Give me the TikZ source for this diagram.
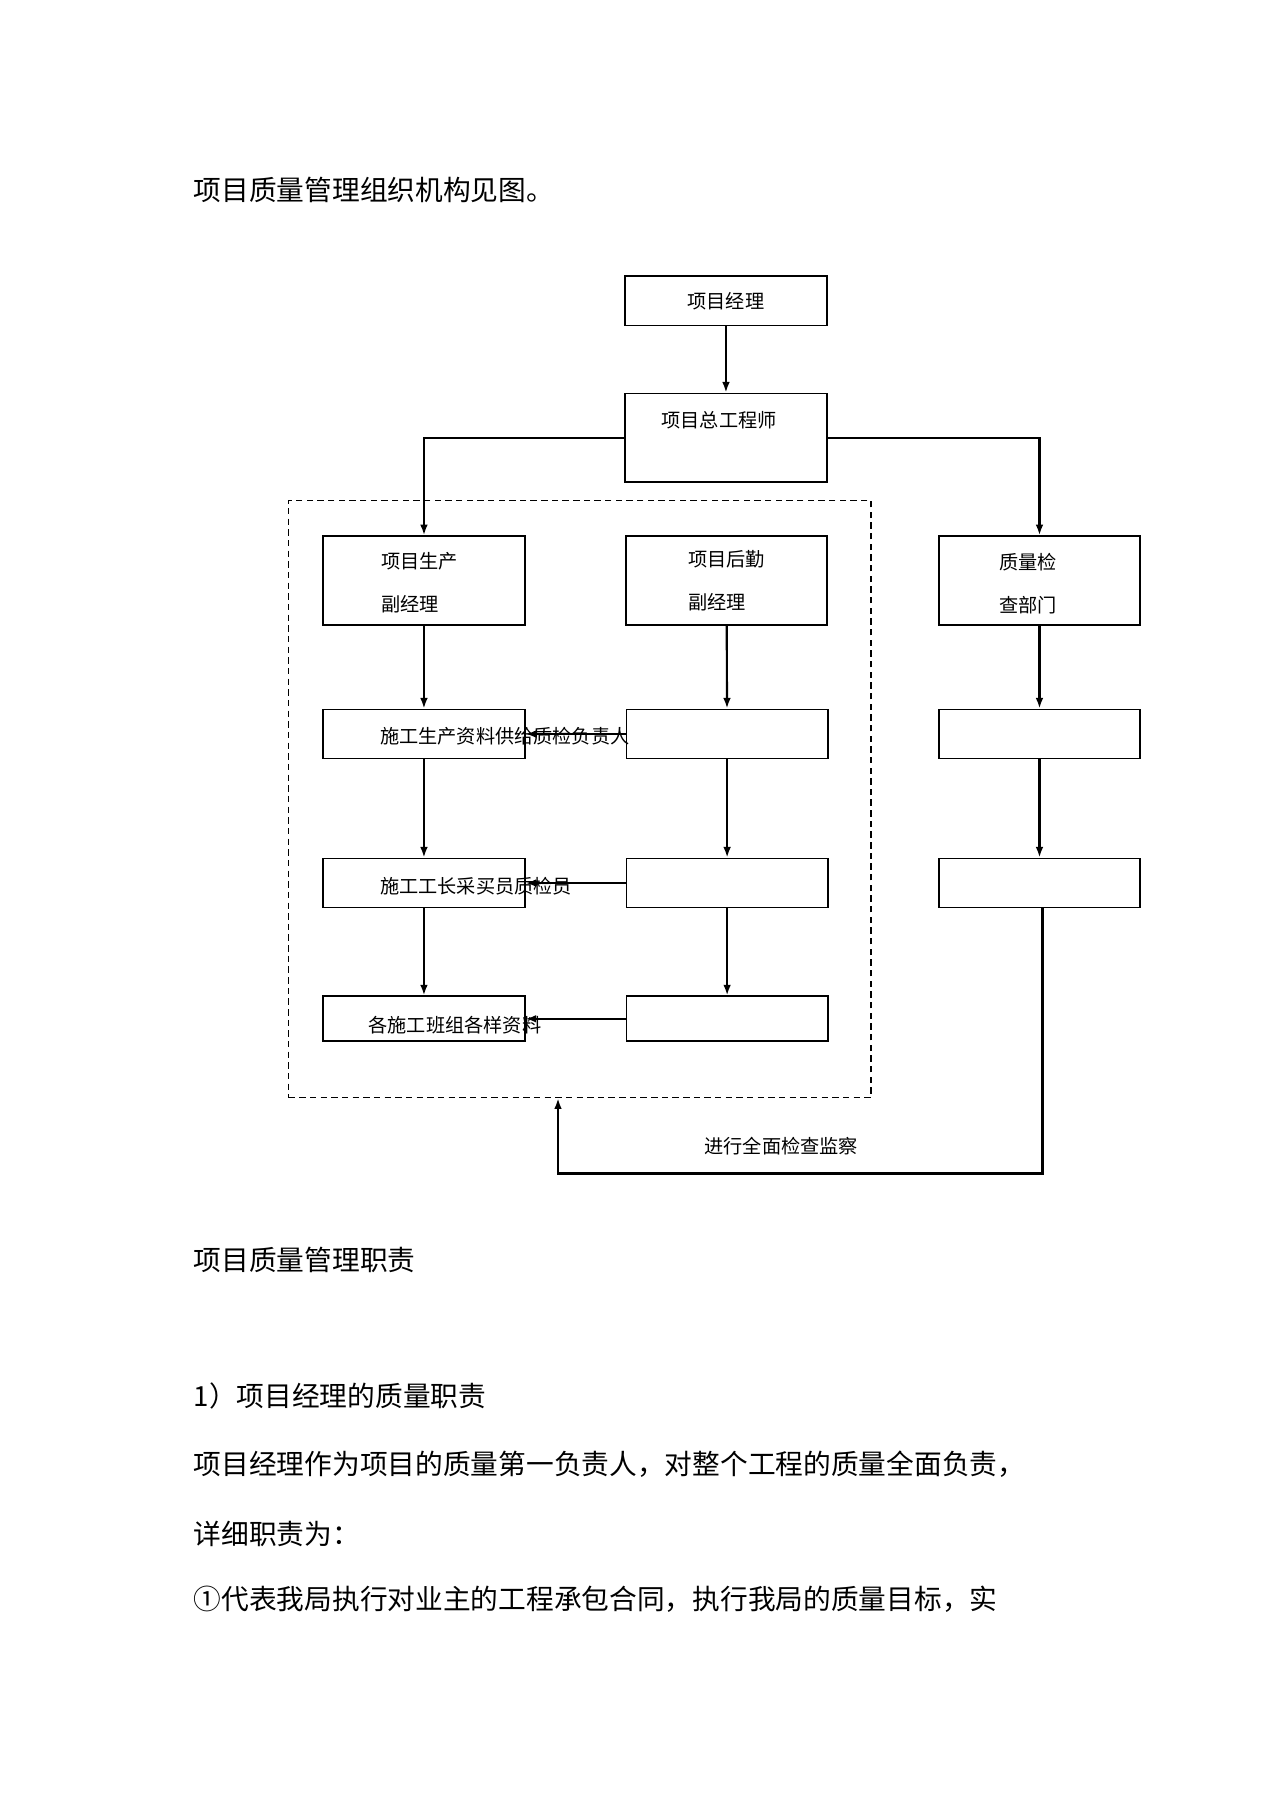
\documentclass[tikz,border=0pt]{standalone}
\usepackage{fontspec}
\newfontfamily\cjk{Noto Sans CJK SC}
\usetikzlibrary{arrows.meta,positioning}

\begin{document}
\begin{tikzpicture}[x=0.01897cm, y=-0.01897cm,
    every node/.style={font=\cjk\fontsize{9}{20}\selectfont},
    box/.style={draw, line width=0.8pt, inner sep=0pt, minimum width=3.32cm, minimum height=0.81cm},
    tallbox/.style={box, minimum height=1.46cm, align=left},
    lowbox/.style={box, minimum height=0.74cm},
    arr/.style={-{Latex[length=5pt,width=3.6pt]}, line width=1pt},
    spill/.style={anchor=west, inner sep=0pt},
    body/.style={anchor=west, inner sep=0pt, font=\cjk\fontsize{13}{16}\selectfont}]
    \useasboundingbox (0,0) rectangle (1107,1568);

    \node[body] (title) at (168,165) {项目质量管理组织机构见图。};

    \node[box] (pm) at (631,261.5) {项目经理};
    \node[tallbox] (chief) at (631,380.5) {};
    \node (chiefname) at (625,365) {项目总工程师};
    \node[draw, dashed, dash pattern=on 3pt off 2pt, line width=0.6pt, minimum width=9.6cm, minimum height=9.845cm] (grp) at (504,694.5) {};

    \node[tallbox] (vpprod) at (368.5,504.5) {};
    \node[tallbox] (vplog) at (631.5,504.5) {项目后勤\\副经理};
    \node[tallbox] (qdept) at (903.5,504.5) {};
    \node[spill, align=left] (vpprodname) at (331,506.5) {项目生产\\副经理};
    \node[spill, align=left] (qdeptname) at (868,507.5) {质量检\\查部门};

    \node[box] (prodA) at (368.5,638) {};
    \node[box] (logA) at (632,638) {};
    \node[box] (qA) at (903.5,638) {};
    \node[box] (prodB) at (368.5,767.5) {};
    \node[box] (logB) at (632,767.5) {};
    \node[box] (qB) at (903.5,767.5) {};
    \node[lowbox] (prodC) at (368.5,885.5) {};
    \node[lowbox] (logC) at (632,885.5) {};

    \draw[arr] (pm) -- (chief);
    \draw[arr] (chief.west) -| (vpprod.north);
    \draw[arr] (chief.east) -| (qdept.north);
    \draw[arr] (vpprod) -- (prodA);
    \draw[arr] (prodA) -- (prodB);
    \draw[arr] (prodB) -- (prodC);
    \draw[arr] (vplog) -- (logA);
    \draw[arr] (logA) -- (logB);
    \draw[arr] (logB) -- (logC);
    \draw[arr] (qdept) -- (qA);
    \draw[arr] (qA) -- (qB);
    \draw[arr] (logA) -- (prodA);
    \draw[arr] (logB) -- (prodB);
    \draw[arr] (logC) -- (prodC);

    \node[spill] (prodAtext) at (330,640) {施工生产资料供给质检负责人};
    \node[spill] (prodBtext) at (330,770) {施工工长采买员质检员};
    \node[spill] (prodCtext) at (320,891) {各施工班组各样资料};

    \coordinate (fb) at (485,1020);
    \draw[arr, line width=1.2pt] (qB.south) ++(2.5,0) |- (fb) -- (fb |- grp.south);
    \node (fbtext) at (679,996) {进行全面检查监察};

    \node[body] (duty) at (168,1095) {项目质量管理职责};
    \node[body] (pmduty) at (168,1213) {1）项目经理的质量职责};
    \node[body] (line1) at (168,1273) {项目经理作为项目的质量第一负责人，对整个工程的质量全面负责，};
    \node[body] (line2) at (168,1333) {详细职责为：};
    \node[body] (line3) at (168,1390) {①代表我局执行对业主的工程承包合同，执行我局的质量目标，实};
\end{tikzpicture}
\end{document}
